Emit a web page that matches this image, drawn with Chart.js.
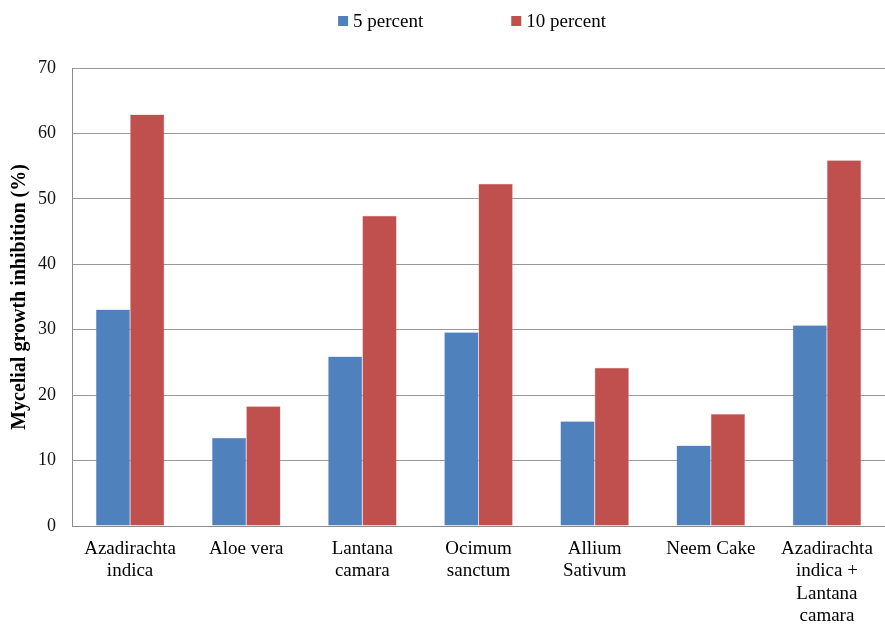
<!DOCTYPE html>
<html>
<head>
<meta charset="utf-8">
<script src="https://cdn.jsdelivr.net/npm/chart.js@4"></script>
<style>
  html, body { margin: 0; padding: 0; background: #fff; }
  #wrap { width: 885px; height: 624px; }
</style>
</head>
<body>
<div id="wrap"><canvas id="c" width="885" height="624"></canvas></div>
<script>
// data
const categories = [
    ['Azadirachta', 'indica'],
    'Aloe vera',
    ['Lantana', 'camara'],
    ['Ocimum', 'sanctum'],
    ['Allium', 'Sativum'],
    'Neem Cake',
    ['Azadirachta', 'indica +', 'Lantana', 'camara']
];
const fivePercent = [33.1, 13.5, 25.9, 29.6, 16.0, 12.3, 30.7];
const tenPercent = [62.9, 18.3, 47.4, 52.3, 24.2, 17.1, 55.9];
const seriesNames = ['5 percent', '10 percent'];
const seriesColors = ['#4F81BD', '#C0504D'];

const FONT = '"Liberation Serif", "Times New Roman", serif';

// legend drawn by hand so the wide gap between the two items can be kept
const topLegend = {
    id: 'topLegend',
    afterDraw(chart) {
        const ctx = chart.ctx;
        ctx.save();
        ctx.font = '19px ' + FONT;
        ctx.textBaseline = 'middle';
        const gap = 88, box = 10, sp = 5;
        const widths = seriesNames.map(n => box + sp + ctx.measureText(n).width);
        const total = widths[0] + gap + widths[1];
        let x = 472 - total / 2;
        const y = 21;
        seriesNames.forEach((name, i) => {
            ctx.fillStyle = seriesColors[i];
            ctx.fillRect(x, y - box / 2, box, box);
            ctx.fillStyle = '#000';
            ctx.fillText(name, x + box + sp, y + 1);
            x += widths[i] + gap;
        });
        ctx.restore();
    }
};

new Chart(document.getElementById('c').getContext('2d'), {
    type: 'bar',
    data: {
        labels: categories,
        datasets: [{
            label: seriesNames[0],
            data: fivePercent,
            backgroundColor: seriesColors[0],
            borderColor: '#8EAADB',
            borderWidth: 0.5
        }, {
            label: seriesNames[1],
            data: tenPercent,
            backgroundColor: seriesColors[1],
            borderColor: '#DB8F8D',
            borderWidth: 0.5
        }]
    },
    options: {
        responsive: false,
        animation: false,
        layout: { padding: { top: 68, right: -2, left: 4, bottom: 0 } },
        datasets: { bar: { categoryPercentage: 0.59, barPercentage: 1 } },
        plugins: {
            legend: { display: false },
            tooltip: { enabled: false }
        },
        scales: {
            x: {
                afterFit(scale) { scale.height = 98; },
                grid: { display: false, drawTicks: false },
                border: { color: '#8c8c8c', width: 1 },
                ticks: {
                    color: '#000',
                    font: { family: FONT, size: 19, lineHeight: 1.17 },
                    padding: 12,
                    maxRotation: 0,
                    autoSkip: false
                }
            },
            y: {
                afterFit(scale) { scale.width = 68; },
                min: 0,
                max: 70,
                grid: { color: '#999999', lineWidth: 1, drawTicks: false },
                border: { color: '#8c8c8c', width: 1 },
                ticks: {
                    stepSize: 10,
                    color: '#111',
                    font: { family: FONT, size: 18 },
                    padding: 16
                },
                title: {
                    display: true,
                    text: 'Mycelial growth inhibition (%)',
                    color: '#000',
                    font: { family: FONT, size: 20, weight: 'bold' },
                    padding: { top: 4, bottom: 8 }
                }
            }
        }
    },
    plugins: [topLegend]
});
</script>
</body>
</html>
